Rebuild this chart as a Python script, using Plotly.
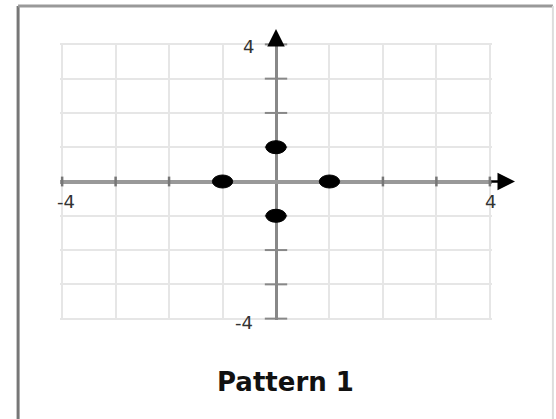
import plotly.graph_objects as go

# points of the pattern
pts_x = [-1, 1, 0, 0]
pts_y = [0, 0, 1, -1]

# grid / ticks
grid_vals = [-4, -3, -2, -1, 0, 1, 2, 3, 4]
tick_marks = [-4, -3, -2, -1, 1, 2, 3, 4]
label_vals = [-4, 4]
label_text = ["-4", "4"]
title_text = "Pattern 1"

fig = go.Figure()

# tick dashes on the axes
fig.add_trace(go.Scatter(
    x=tick_marks, y=[0] * len(tick_marks), mode="markers",
    marker=dict(symbol="line-ns", size=7, line=dict(color="#777777", width=2.5)),
    hoverinfo="skip", showlegend=False, cliponaxis=False,
))
fig.add_trace(go.Scatter(
    x=[0] * len(tick_marks), y=tick_marks, mode="markers",
    marker=dict(symbol="line-ew", size=16, line=dict(color="#888888", width=2)),
    hoverinfo="skip", showlegend=False, cliponaxis=False,
))

# dots as filled ellipses
r = 0.19
for px, py in zip(pts_x, pts_y):
    fig.add_shape(type="circle", xref="x", yref="y",
                  x0=px - r, x1=px + r, y0=py - r, y1=py + r,
                  fillcolor="black", line=dict(color="black", width=1))

# arrow heads
fig.add_annotation(x=4.47, y=0, ax=4.0, ay=0, xref="x", yref="y", axref="x", ayref="y",
                   text="", showarrow=True, arrowhead=2, arrowsize=1.4,
                   arrowwidth=2.5, arrowcolor="black")
fig.add_annotation(x=0, y=4.45, ax=0, ay=4.0, xref="x", yref="y", axref="x", ayref="y",
                   text="", showarrow=True, arrowhead=2, arrowsize=1.4,
                   arrowwidth=2.5, arrowcolor="black")

# tick labels
lab_font = dict(family="DejaVu Sans", size=18, color="#333333")
for v, t in zip(label_vals, label_text):
    fig.add_annotation(x=v, y=0, text=t, showarrow=False, font=lab_font,
                       xshift=(4 if v < 0 else 1), yshift=-20)
    fig.add_annotation(x=0, y=v, text=t, showarrow=False, font=lab_font,
                       xshift=(-32 if v < 0 else -28), yshift=(-4 if v < 0 else -2))

fig.add_annotation(x=0.522, y=-0.224, xref="paper", yref="paper", text="<b>" + title_text + "</b>",
                   xanchor="center", yanchor="middle",
                   showarrow=False, font=dict(family="DejaVu Sans", size=26, color="#111111"))

# frame
fig.add_shape(type="line", xref="paper", yref="paper", x0=-0.097, x1=-0.097, y0=-0.5, y1=1.134,
              line=dict(color="#777777", width=3))
fig.add_shape(type="line", xref="paper", yref="paper", x0=-0.097, x1=1.141, y0=1.134, y1=1.134,
              line=dict(color="#999999", width=3))
fig.add_shape(type="line", xref="paper", yref="paper", x0=1.141, x1=1.141, y0=-0.5, y1=1.134,
              line=dict(color="#dddddd", width=2))

fig.update_xaxes(range=[-4.04, 4.04], tickvals=grid_vals, showticklabels=False,
                 showgrid=True, gridcolor="#e6e6e6", gridwidth=2,
                 zeroline=True, zerolinecolor="#888888", zerolinewidth=3, showline=False)
fig.update_yaxes(range=[-4.04, 4.04], tickvals=grid_vals, showticklabels=False,
                 showgrid=True, gridcolor="#e6e6e6", gridwidth=2,
                 zeroline=True, zerolinecolor="#999999", zerolinewidth=4, showline=False)

fig.update_layout(width=556, height=419, margin=dict(l=60, r=64, t=43, b=99),
                  paper_bgcolor="white", plot_bgcolor="white", showlegend=False)

# drop the default 8px body margin so the figure sits at the page corner
fig.write_html("out.html", config={"displayModeBar": False},
               post_script="document.body.style.margin='0';")
